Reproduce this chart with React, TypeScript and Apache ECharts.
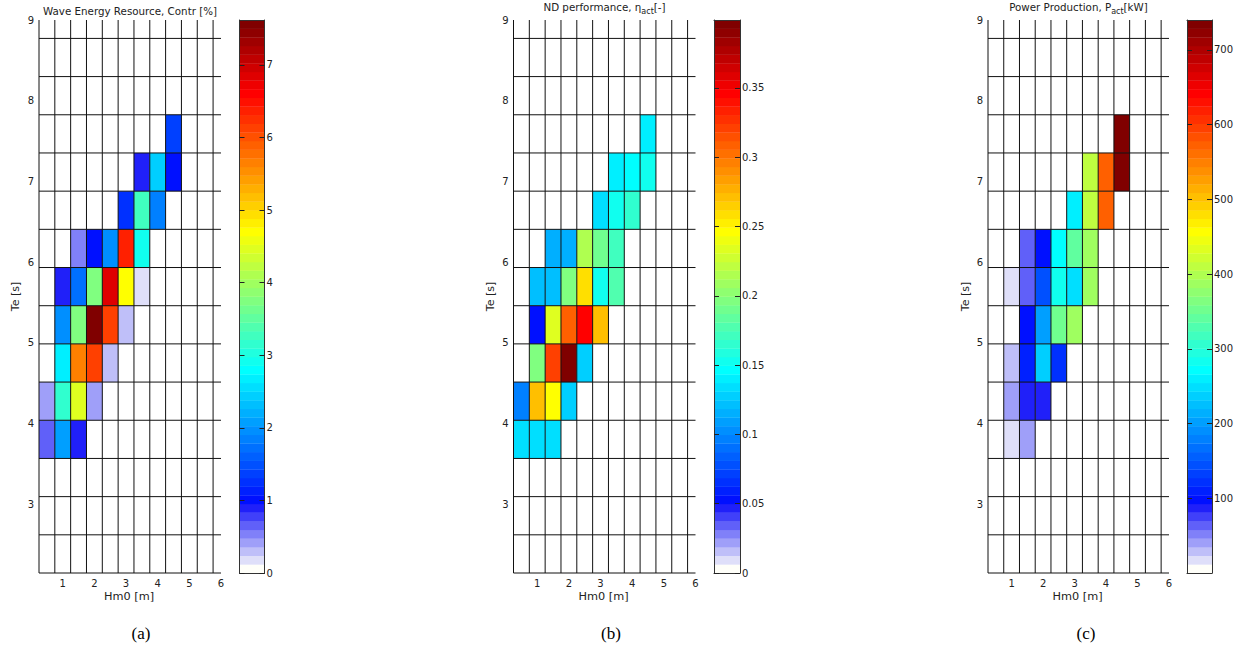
import React, { useEffect, useRef } from "react";
import * as echarts from "echarts";

// ---------- bins & axes ----------
const HM0_EDGES = [0.25, 0.75, 1.25, 1.75, 2.25, 2.75, 3.25, 3.75, 4.25, 4.75, 5.25, 5.75, 6.25];
const TE_EDGES = [2.15, 2.623, 3.096, 3.569, 4.042, 4.515, 4.988, 5.461, 5.934, 6.407, 6.88, 7.353, 7.826, 8.299, 8.772, 9.245];
const HM0_RANGE = [0.25, 6];
const TE_RANGE = [2.15, 9];
const HM0_TICKS = [1, 2, 3, 4, 5, 6];
const TE_TICKS = [3, 4, 5, 6, 7, 8, 9];

// ---------- cells: [Hm0 bin index, Te bin index, value] ----------
const CONTR: number[][] = [
  [0, 3, 0.65], [1, 3, 2.1], [2, 3, 0.9],
  [0, 4, 0.45], [1, 4, 3.2], [2, 4, 4.5], [3, 4, 0.45],
  [1, 5, 2.65], [2, 5, 5.7], [3, 5, 6.1], [4, 5, 0.3],
  [1, 6, 2.0], [2, 6, 3.7], [3, 6, 7.62], [4, 6, 6.1], [5, 6, 0.3],
  [1, 7, 0.9], [2, 7, 1.7], [3, 7, 3.7], [4, 7, 6.9], [5, 7, 4.7], [6, 7, 0.15],
  [2, 8, 0.55], [3, 8, 1.0], [4, 8, 2.0], [5, 8, 6.4], [6, 8, 2.95],
  [5, 9, 1.3], [6, 9, 3.3], [7, 9, 1.9],
  [6, 10, 0.9], [7, 10, 2.4], [8, 10, 0.98],
  [8, 11, 1.4],
];

const ETA: number[][] = [
  [0, 3, 0.135], [1, 3, 0.135], [2, 3, 0.135],
  [0, 4, 0.097], [1, 4, 0.27], [2, 4, 0.246], [3, 4, 0.13],
  [1, 5, 0.196], [2, 5, 0.32], [3, 5, 0.399], [4, 5, 0.125],
  [1, 6, 0.052], [2, 6, 0.233], [3, 6, 0.308], [4, 6, 0.346], [5, 6, 0.27],
  [1, 7, 0.121], [2, 7, 0.121], [3, 7, 0.196], [4, 7, 0.258], [5, 7, 0.152], [6, 7, 0.177],
  [2, 8, 0.115], [3, 8, 0.115], [4, 8, 0.215], [5, 8, 0.19], [6, 8, 0.171],
  [5, 9, 0.134], [6, 9, 0.155], [7, 9, 0.165],
  [6, 10, 0.138], [7, 10, 0.146], [8, 10, 0.155],
  [8, 11, 0.14],
];

const POWER: number[][] = [
  [1, 3, 18], [2, 3, 45],
  [1, 4, 45], [2, 4, 85], [3, 4, 85],
  [1, 5, 30], [2, 5, 110], [3, 5, 237], [4, 5, 120],
  [2, 6, 97], [3, 6, 202], [4, 6, 352], [5, 6, 387],
  [1, 7, 18], [2, 7, 58], [3, 7, 145], [4, 7, 285], [5, 7, 248], [6, 7, 387],
  [2, 8, 58], [3, 8, 97], [4, 8, 272], [5, 8, 340], [6, 8, 387],
  [5, 9, 260], [6, 9, 410], [7, 9, 572],
  [6, 10, 410], [7, 10, 572], [8, 10, 740],
  [8, 11, 740],
];

// ---------- colour scales ----------
const CONTR_MAX = 7.62;
const ETA_MAX = 0.399;
const POWER_MAX = 740;
const CONTR_CB_TICKS = [0, 1, 2, 3, 4, 5, 6, 7];
const ETA_CB_TICKS = [0, 0.05, 0.1, 0.15, 0.2, 0.25, 0.3, 0.35];
const POWER_CB_TICKS = [100, 200, 300, 400, 500, 600, 700];

const TITLES = [
  "{n|Wave Energy Resource, Contr [%]}",
  "{n|ND performance, \u03b7}{s|act}{n|[-]}",
  "{n|Power Production, P}{s|act}{n|[kW]}",
];
const CAPTIONS = ["(a)", "(b)", "(c)"];

const NLEV = 64;
function buildColormap(): string[] {
  const out: string[] = [];
  for (let i = 0; i < NLEV; i++) {
    let r: number, g: number, b: number;
    if (i < 8) {
      const t = i / 8;
      r = 1 - t; g = 1 - t; b = 0.975;
    } else {
      const j = i + 1;
      if (j <= 24) { r = 0; g = (j - 8) / 16; b = 1; }
      else if (j <= 40) { r = (j - 24) / 16; g = 1; b = 1 - (j - 24) / 16; }
      else if (j <= 56) { r = 1; g = 1 - (j - 40) / 16; b = 0; }
      else { r = 1 - (j - 56) / 16; g = 0; b = 0; }
    }
    const h = (x: number) => Math.round(Math.max(0, Math.min(1, x)) * 255);
    out.push(`rgb(${h(r)},${h(g)},${h(b)})`);
  }
  return out;
}
const CMAP = buildColormap();
const colorFor = (v: number, max: number) => CMAP[Math.max(0, Math.min(NLEV - 1, Math.floor((v / max) * NLEV)))];

const FONT = "DejaVu Sans";
const TXT = "#222";

export default function App() {
  const ref = useRef<HTMLDivElement>(null);
  useEffect(() => {
    document.body.style.margin = "0";
    const chart = echarts.init(ref.current!, undefined, { renderer: "svg" });

    const panels = [
      { data: CONTR, max: CONTR_MAX, cbTicks: CONTR_CB_TICKS, heat: { left: 39, width: 182 }, cb: { left: 239.5, width: 25 }, ylab: 15, cap: 141 },
      { data: ETA, max: ETA_MAX, cbTicks: ETA_CB_TICKS, heat: { left: 513.5, width: 182 }, cb: { left: 714, width: 26 }, ylab: 490, cap: 611 },
      { data: POWER, max: POWER_MAX, cbTicks: POWER_CB_TICKS, heat: { left: 988, width: 181 }, cb: { left: 1187, width: 25 }, ylab: 965, cap: 1086 },
    ];
    const TOP = 20, HEIGHT = 553;

    const grid: any[] = [];
    const xAxis: any[] = [];
    const yAxis: any[] = [];
    const series: any[] = [];
    const graphic: any[] = [];

    const lineData: number[][] = [
      ...HM0_EDGES.filter((x) => x >= HM0_RANGE[0] && x <= HM0_RANGE[1]).map((x) => [0, x]),
      ...TE_EDGES.filter((y) => y >= TE_RANGE[0] && y <= TE_RANGE[1]).map((y) => [1, y]),
    ];

    panels.forEach((p, pi) => {
      const gh = pi * 2, gc = pi * 2 + 1;
      grid.push({ left: p.heat.left, top: TOP, width: p.heat.width, height: HEIGHT });
      grid.push({ left: p.cb.left, top: TOP, width: p.cb.width, height: HEIGHT });
      const ax = pi * 3;
      // heat axes
      xAxis.push({
        type: "value", gridIndex: gh, min: HM0_RANGE[0], max: HM0_RANGE[1],
        axisLine: { show: false, onZero: false }, axisTick: { show: false }, splitLine: { show: false },
        axisLabel: { customValues: HM0_TICKS, fontSize: 10, fontFamily: FONT, color: TXT, margin: 5 },
      });
      yAxis.push({
        type: "value", gridIndex: gh, min: TE_RANGE[0], max: TE_RANGE[1],
        axisLine: { show: false, onZero: false }, axisTick: { show: false }, splitLine: { show: false },
        axisLabel: { customValues: TE_TICKS, fontSize: 10, fontFamily: FONT, color: TXT, margin: 5 },
      });
      // colorbar axes
      const cbLine = { show: true, onZero: false, lineStyle: { color: "#333", width: 1 } };
      xAxis.push({ type: "value", gridIndex: gc, min: 0, max: 1, position: "bottom", z: 5, axisLine: cbLine, axisTick: { show: false }, axisLabel: { show: false }, splitLine: { show: false } });
      xAxis.push({ type: "value", gridIndex: gc, min: 0, max: 1, position: "top", z: 5, axisLine: cbLine, axisTick: { show: false }, axisLabel: { show: false }, splitLine: { show: false } });
      yAxis.push({
        type: "value", gridIndex: gc, min: 0, max: p.max, position: "left", z: 5, axisLine: cbLine,
        axisTick: { show: true, inside: true, length: 5, customValues: p.cbTicks, lineStyle: { color: "#222" } },
        axisLabel: { show: false }, splitLine: { show: false },
      });
      yAxis.push({
        type: "value", gridIndex: gc, min: 0, max: p.max, position: "right", z: 5, axisLine: cbLine,
        axisTick: { show: true, inside: true, length: 5, customValues: p.cbTicks, lineStyle: { color: "#222" } },
        axisLabel: { show: true, customValues: p.cbTicks, fontSize: 10, fontFamily: FONT, color: TXT, margin: 2 },
        splitLine: { show: false },
      });

      // cells
      series.push({
        type: "custom", xAxisIndex: ax, yAxisIndex: ax, z: 2, silent: true,
        data: p.data,
        renderItem: (_params: any, api: any) => {
          const i = api.value(0), j = api.value(1), v = api.value(2);
          const a = api.coord([HM0_EDGES[i], TE_EDGES[j + 1]]);
          const b = api.coord([HM0_EDGES[i + 1], TE_EDGES[j]]);
          return { type: "rect", shape: { x: a[0], y: a[1], width: b[0] - a[0], height: b[1] - a[1] }, style: { fill: colorFor(v, p.max) } };
        },
      });
      // bin edge lines
      series.push({
        type: "custom", xAxisIndex: ax, yAxisIndex: ax, z: 3, silent: true,
        data: lineData,
        renderItem: (_params: any, api: any) => {
          const kind = api.value(0), val = api.value(1);
          const a = kind === 0 ? api.coord([val, TE_RANGE[0]]) : api.coord([HM0_RANGE[0], val]);
          const b = kind === 0 ? api.coord([val, TE_RANGE[1]]) : api.coord([HM0_RANGE[1], val]);
          return { type: "line", shape: { x1: a[0], y1: a[1], x2: b[0], y2: b[1] }, style: { stroke: "#111", lineWidth: 1 } };
        },
      });
      // colorbar
      const levels: number[][] = [];
      for (let k = 0; k < NLEV; k++) levels.push([0, k]);
      series.push({
        type: "custom", xAxisIndex: ax + 1, yAxisIndex: ax + 2, z: 2, silent: true,
        data: levels,
        renderItem: (_params: any, api: any) => {
          const k = api.value(1);
          const a = api.coord([0, ((k + 1) * p.max) / NLEV]);
          const b = api.coord([1, (k * p.max) / NLEV]);
          return { type: "rect", shape: { x: a[0], y: a[1], width: b[0] - a[0], height: b[1] - a[1] + 0.3 }, style: { fill: CMAP[k] } };
        },
      });

      const cx = p.heat.left + p.heat.width / 2;
      graphic.push({
        type: "text", x: cx, y: pi === 0 ? 11 : 7,
        style: {
          text: TITLES[pi], align: "center", verticalAlign: "middle", fill: TXT,
          rich: {
            n: { fontSize: 10.3, fontFamily: FONT, lineHeight: 16, fill: TXT, color: TXT },
            s: { fontSize: 8, fontFamily: FONT, lineHeight: 8, verticalAlign: "bottom", fill: TXT, color: TXT },
          },
        },
      });
      graphic.push({
        type: "text", x: cx - 1, y: 596,
        style: { text: "Hm0 [m]", align: "center", verticalAlign: "middle", fontSize: 11.3, fontFamily: FONT, fill: TXT },
      });
      graphic.push({
        type: "text", x: p.ylab, y: TOP + HEIGHT / 2, rotation: Math.PI / 2,
        style: { text: "Te [s]", align: "center", verticalAlign: "middle", fontSize: 11, fontFamily: FONT, fill: TXT },
      });
      graphic.push({
        type: "text", x: p.cap, y: 633,
        style: { text: CAPTIONS[pi], align: "center", verticalAlign: "middle", fontSize: 17, fontFamily: "Liberation Serif", fill: "#000" },
      });
    });

    chart.setOption({
      animation: false,
      backgroundColor: "#fff",
      grid, xAxis, yAxis, series, graphic,
    });
    return () => chart.dispose();
  }, []);
  return <div ref={ref} style={{ width: 1244, height: 650 }} />;
}
